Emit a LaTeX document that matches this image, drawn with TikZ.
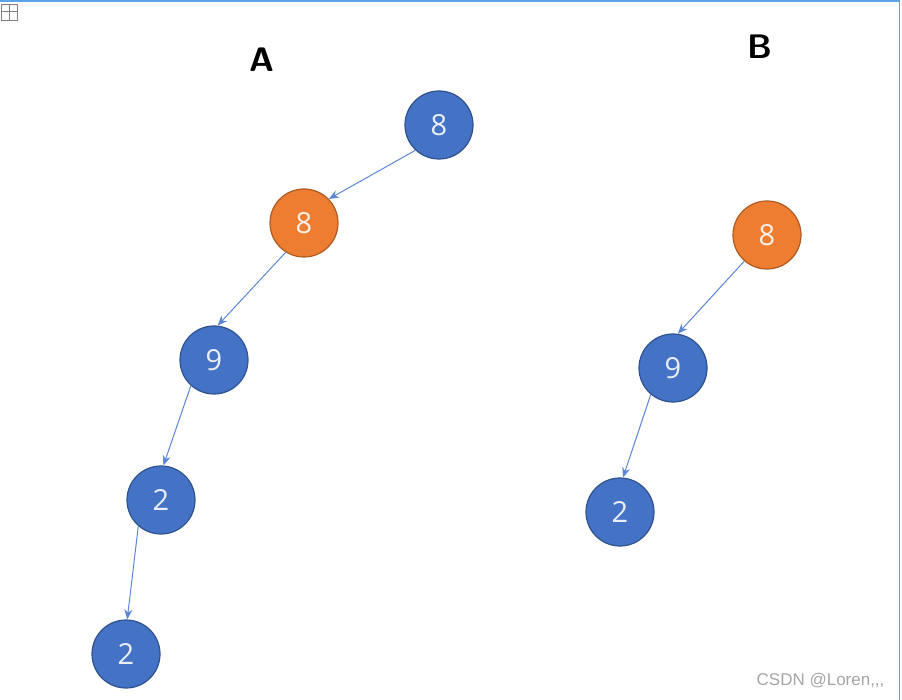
\documentclass[tikz,border=0pt]{standalone}
\usepackage{fontspec}
\setmainfont{Carlito}
\newfontfamily\wmfont{Liberation Sans}
\newfontfamily\numfont{Open Sans}
\usetikzlibrary{arrows.meta}
\definecolor{nblue}{HTML}{4472C4}
\definecolor{nblueb}{HTML}{2F528F}
\definecolor{norange}{HTML}{ED7D31}
\definecolor{norangeb}{HTML}{AE5A21}
\definecolor{frameb}{HTML}{5BA3E8}
\definecolor{edgec}{HTML}{5B86D6}
\tikzset{
  bnode/.style={circle, fill=nblue, draw=nblueb, line width=1.2pt, minimum size=68pt, inner sep=0pt, text=white!88!nblue, font=\numfont\fontsize{29}{29}\selectfont},
  onode/.style={bnode, fill=norange, draw=norangeb, text=white!88!norange},
  edge/.style={draw=edgec, line width=1pt, -{Stealth[length=10pt,width=8pt]}},
  title/.style={font=\fontsize{34}{34}\selectfont\bfseries\sffamily},
}
\begin{document}
\begin{tikzpicture}[x=1pt,y=-1pt]
\useasboundingbox (0,0) rectangle (902,700);
\fill[white] (0,0) rectangle (902,700);
\draw[frameb, line width=1.5pt] (0,1) -- (899.5,1) -- (899.5,700);
% move handle icon
\draw[gray, line width=0.8pt] (1,4) rectangle (17,20);
\draw[gray, line width=1pt] (9,4) -- (9,20) (1,12) -- (17,12);
\node[title] (la) at (262,60) {A};
\node[title] (lb) at (760,47) {B};
% tree A
\node[bnode] (a1) at (439,125) {8};
\node[onode] (a2) at (304,223) {8};
\node[bnode] (a3) at (214,360) {9};
\node[bnode] (a4) at (161,500) {2};
\node[bnode] (a5) at (126,654) {2};
\draw[edge] (a1.227) -- (a2.44);
\draw[edge] (a2.238) -- (a3.84);
\draw[edge] (a3.228) -- (a4.86);
\draw[edge] (a4.229) -- (a5.88);
% tree B
\node[onode] (b1) at (767,235) {8};
\node[bnode] (b2) at (673,368) {9};
\node[bnode] (b3) at (620,512) {2};
\draw[edge] (b1.229) -- (b2.82);
\draw[edge] (b2.230) -- (b3.85);
% watermark
\node[anchor=east, text=gray!70, font=\wmfont\fontsize{17}{17}\selectfont] (wm) at (888,681) {CSDN @Loren,,,};
\end{tikzpicture}
\end{document}
